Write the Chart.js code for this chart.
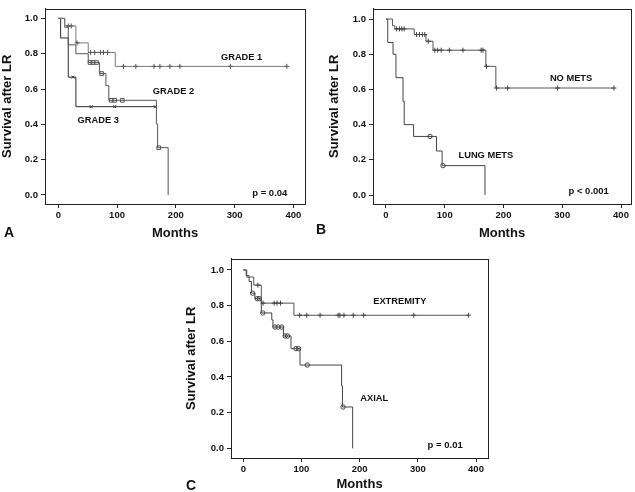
<!DOCTYPE html>
<html><head><meta charset="utf-8">
<script src="https://cdn.jsdelivr.net/npm/chart.js@4.4.1/dist/chart.umd.min.js"></script>
<style>
html,body{margin:0;padding:0;background:#fff;}
body{width:635px;height:492px;position:relative;overflow:hidden;font-family:"Liberation Sans",Arial,sans-serif;}
canvas{position:absolute;display:block;}
.tag{position:absolute;font:bold 14px "Liberation Sans",Arial,sans-serif;color:#111;line-height:14px;}
</style></head><body>
<canvas id="ca" width="315" height="245" style="left:0;top:0"></canvas>
<canvas id="cb" width="320" height="245" style="left:315px;top:0"></canvas>
<canvas id="cc" width="340" height="242" style="left:160px;top:250px"></canvas>
<div class="tag" style="left:4px;top:225px">A</div>
<div class="tag" style="left:316px;top:222px">B</div>
<div class="tag" style="left:186px;top:478px">C</div>
<script>
const monthTicks = [0, 100, 200, 300, 400];
const survivalTicks = [0, 0.2, 0.4, 0.6, 0.8, 1.0];

// Panel A: by grade
const gradeOneTimes = [0, 11, 30, 51, 97, 389];
const gradeOneSurv = [1.0, 0.957, 0.861, 0.807, 0.728, 0.728];
const gradeOneCensored = [17, 22, 32, 55, 62, 72, 77, 84, 111, 132, 163, 173, 190, 207, 293, 389];

const gradeTwoTimes = [0, 11, 17, 30, 51, 70, 81, 86, 167, 169, 187];
const gradeTwoSurv = [1.0, 0.95, 0.85, 0.80, 0.75, 0.6875, 0.619, 0.536, 0.402, 0.268, 0.0];
const gradeTwoCensored = [54, 59, 65, 74, 90, 96, 109, 171];

const gradeThreeTimes = [0, 4, 17, 30, 165];
const gradeThreeSurv = [1.0, 0.889, 0.667, 0.5, 0.5];
const gradeThreeCensored = [25, 56, 96, 165];

// Panel B: lung metastases
const noMetsTimes = [0, 11, 15, 48, 68, 80, 170, 187, 388];
const noMetsSurv = [1.0, 0.962, 0.944, 0.912, 0.874, 0.823, 0.731, 0.608, 0.608];
const noMetsCensored = [18, 23, 27, 31, 52, 57, 62, 66, 72, 83, 88, 94, 108, 131, 162, 165, 171, 188, 207, 292, 388];

const lungMetsTimes = [0, 3, 12, 17, 29, 31, 47, 86, 95.5, 168.5];
const lungMetsSurv = [1.0, 0.867, 0.80, 0.667, 0.533, 0.40, 0.333, 0.25, 0.167, 0.0];
const lungMetsCensored = [75, 97];

// Panel C: site
const extremityTimes = [0, 6, 18, 31, 87, 387];
const extremitySurv = [1.0, 0.96, 0.915, 0.814, 0.746, 0.746];
const extremityCensored = [25, 34, 53, 58, 64, 97, 109, 132, 163, 166, 173, 189, 207, 293, 387];

const axialTimes = [0, 5, 10, 14, 20, 31, 49, 51, 69, 82, 97.5, 169, 170.5, 188];
const axialSurv = [1.0, 0.968, 0.935, 0.87, 0.839, 0.759, 0.72, 0.68, 0.63, 0.559, 0.467, 0.35, 0.232, 0.0];
const axialCensored = [16, 24, 27.5, 33.5, 54.5, 60, 66, 72, 76, 90.6, 95, 110, 171.5];

const FONT = '"Liberation Sans", Arial, sans-serif';

function stepValue(times, surv, t) {
  let v = surv[0];
  for (let i = 0; i < times.length; i++) { if (times[i] <= t) v = surv[i]; }
  return v;
}
function curve(times, surv, color) {
  return { data: times.map((t, i) => ({ x: t, y: surv[i] })), showLine: true, stepped: true,
    borderColor: color, borderWidth: 1, pointRadius: 0, pointHoverRadius: 0, fill: false, order: 2 };
}
function marks(censor, times, surv, color, style, r) {
  return { data: censor.map(t => ({ x: t, y: stepValue(times, surv, t) })), showLine: false,
    pointStyle: style, pointRadius: r, pointHoverRadius: r, borderColor: color,
    backgroundColor: 'rgba(255,255,255,0)', pointBorderWidth: 1, borderWidth: 1, order: 1 };
}

const framePlugin = {
  id: 'frame',
  afterDraw(chart) {
    const a = chart.chartArea, ctx = chart.ctx;
    ctx.save();
    ctx.strokeStyle = '#222'; ctx.lineWidth = 1;
    ctx.strokeRect(Math.round(a.left) + 0.5, Math.round(a.top) + 0.5,
      Math.round(a.right) - Math.round(a.left), Math.round(a.bottom) - Math.round(a.top));
    ctx.restore();
  }
};

function makeChart(id, p) {
  const textPlugin = {
    id: 'panelText',
    afterDatasetsDraw(chart) {
      const { ctx, scales: { x, y } } = chart;
      ctx.save();
      ctx.fillStyle = '#111'; ctx.textAlign = 'center'; ctx.textBaseline = 'middle';
      p.texts.forEach(it => {
        ctx.font = it.font;
        ctx.fillText(it.text, x.getPixelForValue(it.x), y.getPixelForValue(it.y));
      });
      ctx.restore();
    }
  };
  const tickFont = { family: FONT, size: 9.5, weight: 'bold' };
  const titleFont = { family: FONT, size: 13, weight: 'bold' };
  return new Chart(document.getElementById(id), {
    type: 'scatter',
    data: { datasets: p.datasets },
    options: {
      responsive: false, animation: false, devicePixelRatio: 1,
      layout: { padding: p.padding },
      plugins: { legend: { display: false }, tooltip: { enabled: false } },
      events: [],
      scales: {
        x: {
          type: 'linear', min: p.xMin, max: p.xMax,
          afterBuildTicks: s => { s.ticks = monthTicks.map(v => ({ value: v })); },
          afterFit: s => { s.height = p.xAxisHeight; },
          grid: { display: true, drawOnChartArea: false, drawTicks: true, tickLength: 4, color: '#222', tickColor: '#222' },
          border: { display: true, color: '#222', width: 1 },
          ticks: { color: '#111', font: tickFont, padding: 2, maxRotation: 0, autoSkip: false },
          title: { display: true, text: 'Months', color: '#111', font: titleFont, padding: { top: 0, bottom: p.xTitlePad } }
        },
        y: {
          type: 'linear', min: p.yMin, max: p.yMax,
          afterBuildTicks: s => { s.ticks = survivalTicks.map(v => ({ value: v })); },
          afterFit: s => { s.width = p.yAxisWidth; },
          grid: { display: true, drawOnChartArea: false, drawTicks: true, tickLength: 4, color: '#222', tickColor: '#222' },
          border: { display: true, color: '#222', width: 1 },
          ticks: { color: '#111', font: tickFont, padding: 3, autoSkip: false, callback: v => Number(v).toFixed(1) },
          title: { display: true, text: 'Survival after LR', color: '#111', font: titleFont, padding: { top: p.yTitlePad, bottom: 0 } }
        }
      }
    },
    plugins: [framePlugin, textPlugin]
  });
}

const labelFont = 'bold 9.3px ' + FONT;
const pFont = 'bold 9.5px ' + FONT;

makeChart('ca', {
  padding: { left: 0, top: 2, right: 10, bottom: 0 },
  yAxisWidth: 45, xAxisHeight: 41, xTitlePad: 4, yTitlePad: 0,
  xMin: -22.6, xMax: 419.9, yMin: -0.051, yMax: 1.0547,
  datasets: [
    curve(gradeOneTimes, gradeOneSurv, '#7a7a7a'),
    curve(gradeTwoTimes, gradeTwoSurv, '#555'),
    curve(gradeThreeTimes, gradeThreeSurv, '#2a2a2a'),
    marks(gradeOneCensored, gradeOneTimes, gradeOneSurv, '#555', 'cross', 2.5),
    marks(gradeTwoCensored, gradeTwoTimes, gradeTwoSurv, '#555', 'rect', 2.6),
    marks(gradeThreeCensored, gradeThreeTimes, gradeThreeSurv, '#333', 'crossRot', 2)
  ],
  texts: [
    { text: 'GRADE 1', x: 312, y: 0.776, font: labelFont },
    { text: 'GRADE 2', x: 196, y: 0.584, font: labelFont },
    { text: 'GRADE 3', x: 68, y: 0.42, font: labelFont },
    { text: 'p = 0.04', x: 360, y: 0.009, font: pFont }
  ]
});

makeChart('cb', {
  padding: { left: 12, top: 2, right: 4, bottom: 0 },
  yAxisWidth: 46, xAxisHeight: 41, xTitlePad: 4, yTitlePad: 0,
  xMin: -22.1, xMax: 417, yMin: -0.051, yMax: 1.0588,
  datasets: [
    curve(noMetsTimes, noMetsSurv, '#555'),
    curve(lungMetsTimes, lungMetsSurv, '#444'),
    marks(noMetsCensored, noMetsTimes, noMetsSurv, '#444', 'cross', 2.5),
    marks(lungMetsCensored, lungMetsTimes, lungMetsSurv, '#444', 'circle', 2.2)
  ],
  texts: [
    { text: 'NO METS', x: 315, y: 0.663, font: labelFont },
    { text: 'LUNG METS', x: 170, y: 0.224, font: labelFont },
    { text: 'p < 0.001', x: 345, y: 0.02, font: pFont }
  ]
});

makeChart('cc', {
  padding: { left: 24, top: 7, right: 12, bottom: 0 },
  yAxisWidth: 47, xAxisHeight: 34, xTitlePad: 0, yTitlePad: 0,
  xMin: -21.1, xMax: 420.6, yMin: -0.054, yMax: 1.063,
  datasets: [
    curve(extremityTimes, extremitySurv, '#555'),
    curve(axialTimes, axialSurv, '#444'),
    marks(extremityCensored, extremityTimes, extremitySurv, '#444', 'cross', 2.5),
    marks(axialCensored, axialTimes, axialSurv, '#444', 'circle', 2.2)
  ],
  texts: [
    { text: 'EXTREMITY', x: 269, y: 0.824, font: labelFont },
    { text: 'AXIAL', x: 225, y: 0.279, font: labelFont },
    { text: 'p = 0.01', x: 347, y: 0.018, font: pFont }
  ]
});
</script>
</body></html>
